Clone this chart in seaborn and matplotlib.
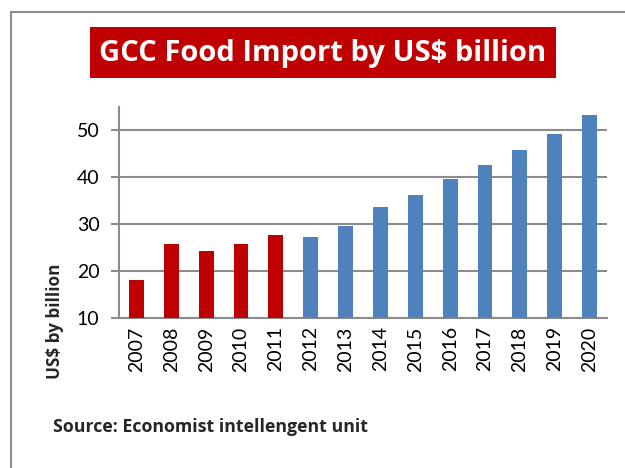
import numpy as np
import pandas as pd
import matplotlib
matplotlib.use('Agg')
import matplotlib.pyplot as plt
import matplotlib.patches as mpatches
import seaborn as sns

# data
years = ['2007', '2008', '2009', '2010', '2011', '2012', '2013',
         '2014', '2015', '2016', '2017', '2018', '2019', '2020']
values = [18.0, 25.7, 24.2, 25.7, 27.6, 27.2, 29.6,
          33.7, 36.2, 39.6, 42.6, 45.9, 49.3, 53.2]
groups = ['actual'] * 5 + ['forecast'] * 9
colors = {'actual': '#C00000', 'forecast': '#4F81BD'}

sns.set_style('white')
plt.rcParams['font.family'] = ['Lato', 'DejaVu Sans']
bold_font = ['Open Sans', 'DejaVu Sans']

df = pd.DataFrame({'year': years, 'value': values, 'group': groups})

fig = plt.figure(figsize=(6.25, 4.68), dpi=100)
ax = fig.add_axes([119/625, 1 - 318/468, 488/625, 211/468])

sns.barplot(data=df, x='year', y='value', hue='group', palette=colors,
            dodge=False, width=0.43, legend=False, ax=ax, zorder=3,
            saturation=1, edgecolor='none')

ax.set_ylim(10, 55)
ax.set_yticks([10, 20, 30, 40, 50])
ax.set_xlim(-0.5, len(years) - 0.5)
ax.yaxis.grid(True, color='#8c8c8c', linewidth=1.5, zorder=0)
ax.set_axisbelow(True)
ax.set_xlabel('')
ax.set_ylabel('')
for side in ['top', 'right']:
    ax.spines[side].set_visible(False)
for side in ['left', 'bottom']:
    ax.spines[side].set_color('#8c8c8c')
    ax.spines[side].set_linewidth(1.5)
ax.tick_params(axis='y', length=6, width=1.5, color='#8c8c8c', pad=8,
               labelsize=14, labelcolor='black', left=True)
ax.tick_params(axis='x', length=0, pad=6, labelsize=14, labelrotation=90,
               labelcolor='black')

# outer frame of the original image
fig.add_artist(mpatches.Rectangle((11/625, -0.2), 2, 1.2 - 12/468,
                                  transform=fig.transFigure, fill=False,
                                  edgecolor='#8c8c8c', linewidth=1.5))

# title on red box
fig.add_artist(mpatches.Rectangle((90/625, 1 - 78/468), 466/625, 51/468,
                                  transform=fig.transFigure,
                                  facecolor='#C00000', edgecolor='none'))
fig.text(323/625, 1 - 53/468, 'GCC Food Import by US$ billion',
         color='white', fontsize=21, fontweight='bold', family=bold_font,
         ha='center', va='center')

fig.text(55/625, 1 - 321/468, 'US$ by billion', rotation=90,
         fontsize=12.3, fontweight='bold', family=bold_font,
         ha='center', va='center')
fig.text(53/625, 1 - 427/468, 'Source: Economist intellengent unit',
         fontsize=12.8, fontweight='bold', family=bold_font,
         ha='left', va='center')

fig.savefig('out.png', dpi=100)
